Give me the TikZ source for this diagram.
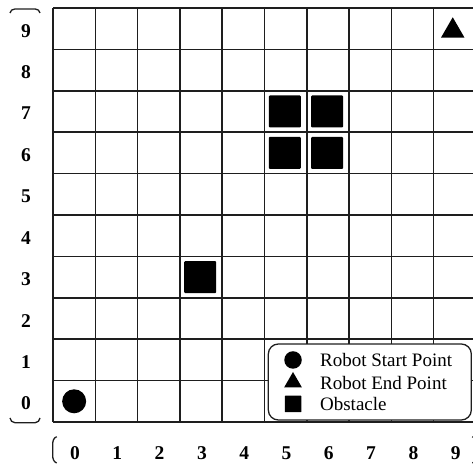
\documentclass[tikz,border=0pt]{standalone}
\usepackage{fontspec}
\setmainfont{Liberation Serif}
\usetikzlibrary{positioning,shapes.geometric}
\usepackage{xcolor}
\definecolor{gridgray}{RGB}{30,30,30}

\begin{document}
\begin{tikzpicture}[
  x=42.3pt, y=41.4pt,
  gridline/.style={draw=gridgray, line width=1.5pt},
  brk/.style={draw=gridgray, line width=1.3pt},
  lbl/.style={font=\fontsize{19.5}{23}\selectfont\bfseries, inner sep=0pt},
  legtext/.style={font=\fontsize{19}{22}\selectfont, anchor=west, inner sep=0pt},
  obst/.style={rectangle, fill=black, rounded corners=1pt, minimum size=32pt, inner sep=0pt},
  startpt/.style={circle, fill=black, minimum size=24pt, inner sep=0pt},
  endpt/.style={regular polygon, regular polygon sides=3, fill=black, minimum size=27pt, inner sep=0pt}
]
\useasboundingbox (-1.253,-1.063) rectangle (9.929,10.193);

% grid
\foreach \i in {0,...,10} {
  \draw[gridline] (\i,0) -- (\i,10);
  \draw[gridline] (0,\i) -- (10,\i);
}

% axis labels
\foreach \i in {0,...,9} {
  \node[lbl] (row\i) at (-0.638,\i+0.45) {\i};
  \node[lbl] (col\i) at (\i+0.52,-0.749) {\i};
}

% brackets
\draw[brk] (-1.017,9.88) to[out=80,in=180] (-0.9,9.976) -- (-0.42,9.976) to[out=0,in=100] (-0.307,9.88);
\draw[brk] (-1.017,0.097) to[out=-80,in=180] (-0.9,-0.017) -- (-0.42,-0.017) to[out=0,in=-100] (-0.307,0.097);
\draw[brk] (0.087,-0.355) to[out=200,in=90] (-0.007,-0.55) -- (-0.007,-0.8) to[out=270,in=160] (0.087,-0.99);
\draw[brk] (9.913,-0.355) to[out=-20,in=90] (10.007,-0.55) -- (10.007,-0.8) to[out=270,in=20] (9.913,-0.99);

% start, end, obstacles
\node[startpt] (start) at (0.5,0.5) {};
\node[endpt] (goal) at (9.45,9.45) {};
\foreach \x/\y [count=\k] in {5/7,6/7,5/6,6/6,3/3}
  \node[obst] (obs\k) at (\x+0.48,\y+0.5) {};

% legend
\node[draw=gridgray, line width=1.3pt, fill=white, rounded corners=10pt,
      minimum width=203pt, minimum height=76pt] (legend) at (7.49,0.966) {};
\node[startpt, minimum size=17.5pt] (kstart) at (5.674,1.498) {};
\node[endpt, minimum size=20.5pt] (kgoal) at (5.674,0.96) {};
\node[obst, minimum size=16.5pt, rounded corners=0.5pt] (kobs) at (5.674,0.435) {};
\node[legtext] (tstart) at (6.31,1.498) {Robot Start Point};
\node[legtext] (tgoal) at (6.31,0.942) {Robot End Point};
\node[legtext] (tobs) at (6.31,0.435) {Obstacle};
\end{tikzpicture}
\end{document}
